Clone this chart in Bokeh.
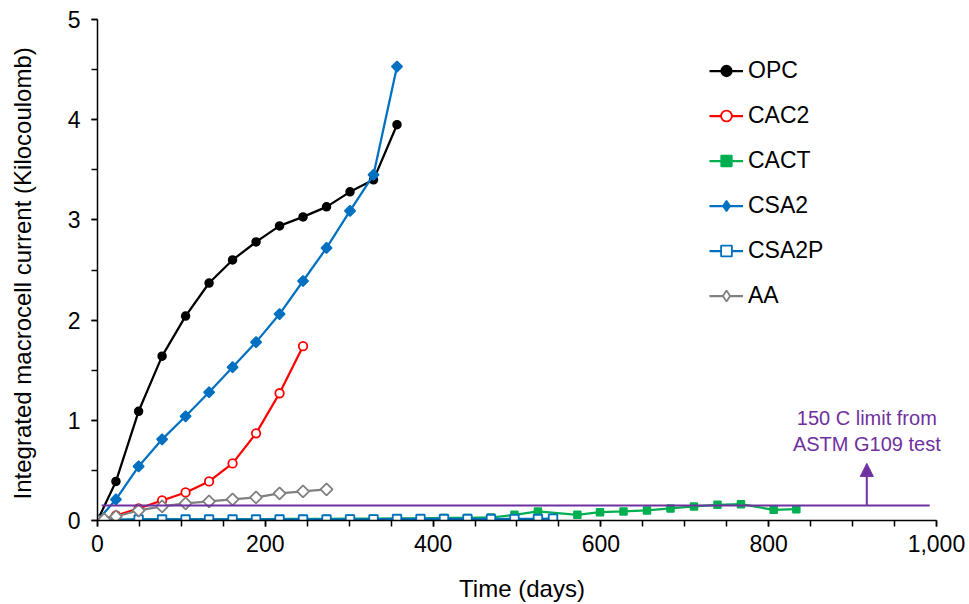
import numpy as np
from bokeh.plotting import figure
from bokeh.models import (Range1d, SingleIntervalTicker, NumeralTickFormatter, Legend, LegendItem,
                          Arrow, NormalHead, ColumnDataSource, Label)
from bokeh.embed import file_html
from bokeh.resources import INLINE

# ---------------- data ----------------
opc_days = [0, 22, 49, 77, 105, 133, 161, 189, 217, 245, 273, 301, 329, 357]
opc = [0, 0.39, 1.09, 1.64, 2.04, 2.37, 2.60, 2.78, 2.94, 3.03, 3.13, 3.28, 3.40, 3.95]

cac2_days = [0, 22, 49, 77, 105, 133, 161, 189, 217, 245]
cac2 = [0, 0.05, 0.12, 0.20, 0.28, 0.39, 0.57, 0.87, 1.27, 1.74]

cact_days = [0, 22, 49, 77, 105, 133, 161, 189, 217, 245, 273, 301, 329, 357, 385, 413, 441, 469,
             497, 525, 572, 599, 627, 655, 683, 711, 739, 767, 806, 833]
cact = [0, 0.005, 0.01, 0.01, 0.01, 0.01, 0.012, 0.012, 0.015, 0.015, 0.015, 0.018, 0.018, 0.02,
        0.022, 0.025, 0.025, 0.03, 0.057, 0.09, 0.057, 0.083, 0.09, 0.10, 0.12, 0.14, 0.157, 0.163,
        0.107, 0.113]

csa2_days = [0, 22, 49, 77, 105, 133, 161, 189, 217, 245, 273, 301, 329, 357]
csa2 = [0, 0.21, 0.54, 0.81, 1.04, 1.28, 1.53, 1.78, 2.06, 2.39, 2.72, 3.09, 3.45, 4.53]

csa2p_days = [0, 22, 49, 77, 105, 133, 161, 189, 217, 245, 273, 301, 329, 357, 385, 413, 441, 469,
              497, 525, 543]
csa2p = [0, 0.005, 0.01, 0.01, 0.01, 0.01, 0.01, 0.01, 0.01, 0.01, 0.01, 0.012, 0.012, 0.015,
         0.015, 0.015, 0.015, 0.015, 0.015, 0.015, 0.018]

aa_days = [0, 8, 22, 49, 77, 105, 133, 161, 189, 217, 245, 273]
aa = [0, 0.01, 0.04, 0.10, 0.14, 0.17, 0.19, 0.21, 0.23, 0.27, 0.29, 0.31]

limit_x = [5, 992]
limit_y = [0.15, 0.15]
arrow_x = 917
arrow_y = [0.15, 0.57]
note_lines = ["150 C limit from", "ASTM G109 test"]
note_y = [1.02, 0.765]

FONT = "Liberation Sans"
PURPLE = "#7030A0"

# x range runs a little past 1000 so the note is not clipped; the axis itself stops at 1000
p = figure(width=969, height=604, output_backend="svg", toolbar_location=None,
           x_range=Range1d(0, 1012), y_range=Range1d(0, 5),
           min_border_left=97, min_border_right=23, min_border_top=19, min_border_bottom=84)
p.outline_line_color = None
p.xgrid.visible = False
p.ygrid.visible = False
p.background_fill_color = "white"
p.border_fill_color = "white"

# axes
p.xaxis.ticker = SingleIntervalTicker(interval=200, num_minor_ticks=4)
p.yaxis.ticker = SingleIntervalTicker(interval=1, num_minor_ticks=2)
p.xaxis.formatter = NumeralTickFormatter(format="0,0")
p.xaxis.bounds = (0, 1000)
for ax in (p.xaxis[0], p.yaxis[0]):
    ax.axis_line_color = "black"
    ax.axis_line_width = 1.5
    ax.major_tick_line_color = "black"
    ax.minor_tick_line_color = "black"
    ax.major_tick_line_width = 1.5
    ax.minor_tick_line_width = 1.5
    ax.major_tick_out = 6
    ax.major_tick_in = 0
    ax.minor_tick_out = 6
    ax.minor_tick_in = 0
    ax.major_label_text_font = FONT
    ax.major_label_text_font_size = "23px"
    ax.major_label_text_color = "black"
    ax.axis_label_text_font = FONT
    ax.axis_label_text_font_style = "normal"
    ax.axis_label_text_color = "black"

p.xaxis.axis_label = "Time (days)"
p.yaxis.axis_label = "Integrated  macrocell current (Kilocoulomb)"
p.xaxis.axis_label_text_font_size = "24px"
p.yaxis.axis_label_text_font_size = "24px"
p.xaxis.major_label_standoff = 8
p.xaxis.axis_label_standoff = 20
p.yaxis.major_label_standoff = 11
p.yaxis.axis_label_standoff = 29

LW = 2.25
items = []

def series(name, xs, ys, color, marker, size, fill, angle=0.0, lw=1.5, legend_marker=None):
    src = ColumnDataSource(dict(x=xs, y=ys))
    r1 = p.line("x", "y", source=src, line_color=color, line_width=LW)
    r2 = p.scatter("x", "y", source=src, marker=marker, size=size, angle=angle,
                   line_color=color, fill_color=fill, line_width=lw)
    rends = [r1, r2]
    if legend_marker is not None:
        # legend-only glyph (not shown in the plot area)
        r3 = p.scatter("x", "y", source=src, marker=legend_marker, size=size,
                       line_color=color, fill_color=fill, line_width=lw, visible=False)
        rends = [r1, r3]
    items.append(LegendItem(label=name, renderers=rends))

series("OPC", opc_days, opc, "black", "circle", 8, "black")
series("CAC2", cac2_days, cac2, "#FF0000", "circle", 8.5, "white", lw=1.8)
series("CACT", cact_days, cact, "#00B050", "square", 7, "#00B050")
series("CSA2", csa2_days, csa2, "#0070C0", "square", 7.5, "#0070C0", angle=np.pi / 4,
       legend_marker="diamond")
series("CSA2P", csa2p_days, csa2p, "#0070C0", "square", 8.5, "white", lw=1.8)
series("AA", aa_days, aa, "#808080", "square", 8.5, "white", angle=np.pi / 4, lw=1.8,
       legend_marker="diamond")

# limit line and annotation
p.line(limit_x, limit_y, line_color=PURPLE, line_width=2)
p.add_layout(Arrow(x_start=arrow_x, y_start=arrow_y[0], x_end=arrow_x, y_end=arrow_y[1],
                   line_color=PURPLE, line_width=2,
                   end=NormalHead(size=13, fill_color=PURPLE, line_color=PURPLE, line_width=1)))
for txt, ty in zip(note_lines, note_y):
    p.add_layout(Label(x=arrow_x, y=ty, text=txt, text_font=FONT, text_font_size="20px",
                       text_color=PURPLE, text_align="center", text_baseline="middle"))

legend = Legend(items=items, location=(612, 211), orientation="vertical",
                glyph_width=34, glyph_height=27, label_height=27, spacing=18,
                label_standoff=5, padding=0, margin=0,
                label_text_font=FONT, label_text_font_size="23px", label_text_color="black",
                border_line_color=None, background_fill_alpha=0)
p.add_layout(legend, "center")

open("out.html", "w").write(file_html(p, INLINE))
